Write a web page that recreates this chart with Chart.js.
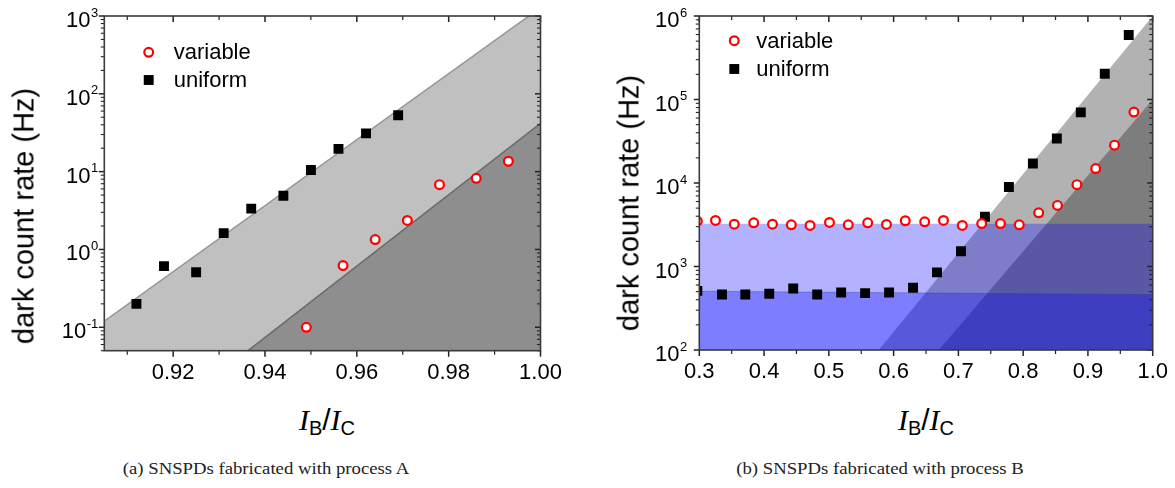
<!DOCTYPE html>
<html>
<head>
<meta charset="utf-8">
<script src="https://cdn.jsdelivr.net/npm/chart.js@4.4.1/dist/chart.umd.min.js"></script>
<style>
  html, body { margin: 0; padding: 0; background: #fff; }
  body { width: 1175px; height: 488px; position: relative; overflow: hidden;
         font-family: "Liberation Sans", Arial, sans-serif; color: #000; }
  canvas { position: absolute; top: 0; }
  #chartA { left: 0; }
  #chartB { left: 580px; }
  .ytitle { position: absolute; font-size: 29px; line-height: normal; white-space: nowrap;
            transform: translate(-50%, -50%) rotate(-90deg); }
  .xtitle { position: absolute; top: 405px; font-size: 30px; line-height: 1; white-space: nowrap;
            transform: translateX(-50%); }
  .xtitle i { font-family: "Liberation Serif", "Times New Roman", serif; }
  .xtitle .sub { font-family: "Liberation Sans", Arial, sans-serif; font-size: 20px;
                 position: relative; top: 5px; }
  .xtitle .sl { font-family: "Liberation Sans", Arial, sans-serif; }
  .caption { position: absolute; top: 461px; font-family: "Liberation Serif", "Times New Roman", serif;
             font-size: 16px; line-height: 1; white-space: nowrap; color: #222;
             transform: translateX(-50%) scaleX(1.17); }
</style>
</head>
<body>
<canvas id="chartA" width="580" height="400"></canvas>
<canvas id="chartB" width="595" height="400"></canvas>

<div class="ytitle" style="left:24px; top:216px;">dark count rate (Hz)</div>
<div class="ytitle" style="left:629px; top:203px;">dark count rate (Hz)</div>

<div class="xtitle" style="left:327px;"><i>I</i><span class="sub">B</span><span class="sl">/</span><i>I</i><span class="sub">C</span></div>
<div class="xtitle" style="left:926px;"><i>I</i><span class="sub">B</span><span class="sl">/</span><i>I</i><span class="sub">C</span></div>

<div class="caption" style="left:266px;">(a) SNSPDs fabricated with process A</div>
<div class="caption" style="left:880px;">(b) SNSPDs fabricated with process B</div>

<script>
// ---------- Process A ----------
const variableA_x = [0.949, 0.957, 0.964, 0.971, 0.978, 0.986, 0.993];
const variableA_y = [0.10, 0.62, 1.34, 2.36, 6.8, 8.2, 13.6];
const uniformA_x  = [0.912, 0.918, 0.925, 0.931, 0.937, 0.944, 0.950, 0.956, 0.962, 0.969];
const uniformA_y  = [0.20, 0.61, 0.51, 1.62, 3.35, 4.9, 10.5, 19.6, 31, 53];
// trend bounds (I_B/I_C, rate) end points
const boundUniformA_x  = [0.905, 1.0];
const boundUniformA_y  = [0.12, 1280];
const boundVariableA_x = [0.9363, 1.0];
const boundVariableA_y = [0.05, 41.8];
// axes
const xTicksA      = [0.92, 0.94, 0.96, 0.98, 1.00];
const xTickLabelsA = ['0.92', '0.94', '0.96', '0.98', '1.00'];
const xMinorA      = [0.91, 0.93, 0.95, 0.97, 0.99];
const yDecadesA    = [0.1, 1, 10, 100, 1000];
const yExponentsA  = ['-1', '0', '1', '2', '3'];

// ---------- Process B ----------
const variableB_x = [0.297, 0.325, 0.354, 0.384, 0.413, 0.442, 0.471, 0.501, 0.530, 0.560, 0.589, 0.618,
                     0.648, 0.677, 0.706, 0.736, 0.765, 0.794, 0.824, 0.853, 0.883, 0.912, 0.941, 0.971];
const variableB_y = [3490, 3560, 3210, 3340, 3210, 3160, 3100, 3370, 3160, 3340, 3190, 3530,
                     3430, 3560, 3100, 3270, 3270, 3160, 4400, 5390, 9550, 14900, 28400, 70800];
const uniformB_x  = [0.297, 0.335, 0.371, 0.408, 0.445, 0.482, 0.519, 0.556, 0.593, 0.630, 0.667, 0.704,
                     0.741, 0.778, 0.815, 0.852, 0.889, 0.926, 0.963];
const uniformB_y  = [510, 462, 462, 471, 546, 462, 489, 480, 489, 556, 851, 1520,
                     3940, 8950, 17100, 34100, 70100, 203000, 591000];
// flat (low-bias) levels and steep (high-bias) bounds
const levelVariableB_x = [0.3, 1.0];
const levelVariableB_y = [3250, 3250];
const levelUniformB_x  = [0.3, 1.0];
const levelUniformB_y  = [505, 460];
const slopeUniformB_x  = [0.577, 1.0];
const slopeUniformB_y  = [100, 1e6];
const slopeVariableB_x = [0.670, 1.0];
const slopeVariableB_y = [100, 1e5];
// axes
const xTicksB      = [0.3, 0.4, 0.5, 0.6, 0.7, 0.8, 0.9, 1.0];
const xTickLabelsB = ['0.3', '0.4', '0.5', '0.6', '0.7', '0.8', '0.9', '1.0'];
const xMinorB      = [0.35, 0.45, 0.55, 0.65, 0.75, 0.85, 0.95];
const yDecadesB    = [100, 1000, 10000, 100000, 1000000];
const yExponentsB  = ['2', '3', '4', '5', '6'];

const FONT = "'Liberation Sans', Arial, sans-serif";
const pts = (xs, ys) => xs.map((x, i) => ({ x, y: ys[i] }));

// Frame, Origin-style tick marks, 10^n labels and the key
const axisFrame = {
  id: 'axisFrame',
  afterDatasetsDraw(chart, _args, o) {
    const { ctx, chartArea: a } = chart;
    const xs = chart.scales.x, ys = chart.scales.y;
    ctx.save();
    ctx.strokeStyle = '#222';
    const seg = (x1, y1, x2, y2, w) => {
      ctx.lineWidth = w; ctx.beginPath(); ctx.moveTo(x1, y1); ctx.lineTo(x2, y2); ctx.stroke();
    };
    o.xMajor.forEach(v => {
      const p = xs.getPixelForValue(v);
      seg(p, a.bottom, p, a.bottom + 6, 1.5);
      seg(p, a.top, p, a.top + 6, 1.5);
    });
    o.xMinor.forEach(v => {
      const p = xs.getPixelForValue(v);
      seg(p, a.bottom, p, a.bottom + 4, 1.2);
      seg(p, a.top, p, a.top + 4, 1.2);
    });
    const lo = Math.floor(Math.log10(ys.min)), hi = Math.ceil(Math.log10(ys.max));
    for (let e = lo; e <= hi; e++) {
      for (let k = 1; k < 10; k++) {
        const v = k * Math.pow(10, e);
        if (v < ys.min * 0.999999 || v > ys.max * 1.000001) continue;
        const p = ys.getPixelForValue(v);
        const len = k === 1 ? 5.5 : 3.5;
        const w = k === 1 ? 1.5 : 1.1;
        seg(a.left - len, p, a.left, p, w);
        seg(a.right - len, p, a.right, p, w);
      }
    }
    ctx.lineWidth = 1.6;
    ctx.strokeStyle = '#3a3a3a';
    ctx.strokeRect(a.left, a.top, a.width, a.height);

    // decade labels 10^n
    ctx.fillStyle = '#000';
    ctx.textAlign = 'right';
    ctx.textBaseline = 'alphabetic';
    o.yDecades.forEach((v, i) => {
      const p = ys.getPixelForValue(v);
      const xr = a.left - o.labelGap;
      ctx.font = '13px ' + FONT;
      const ex = o.yExponents[i];
      ctx.fillText(ex, xr, p + 0.5);
      const w = ctx.measureText(ex).width;
      ctx.font = '22px ' + FONT;
      ctx.fillText('10', xr - w - 0.5, p + 11);
    });

    // key
    const items = chart.data.datasets.filter(d => d.showInKey);
    items.forEach((d, i) => {
      const cx = a.left + o.key.dx, cy = a.top + o.key.dy + i * o.key.gap;
      if (d.pointStyle === 'rect') {
        const s = d.pointRadius * Math.SQRT1_2;
        ctx.fillStyle = d.pointBackgroundColor;
        ctx.fillRect(cx - s, cy - s, 2 * s, 2 * s);
      } else {
        ctx.beginPath();
        ctx.arc(cx, cy, d.pointRadius, 0, 2 * Math.PI);
        ctx.fillStyle = d.pointBackgroundColor;
        ctx.fill();
        ctx.lineWidth = d.pointBorderWidth;
        ctx.strokeStyle = d.pointBorderColor;
        ctx.stroke();
      }
      ctx.fillStyle = '#000';
      ctx.font = '22px ' + FONT;
      ctx.textAlign = 'left';
      ctx.textBaseline = 'middle';
      ctx.fillText(d.label, cx + o.key.textDx, cy + 1);
    });
    ctx.restore();
  }
};

const variableStyle = {
  showLine: false, pointStyle: 'circle', pointRadius: 4.4, pointBorderWidth: 2.2,
  pointBorderColor: '#ff0000', pointBackgroundColor: '#ffffff', clip: 0, showInKey: true
};
const uniformStyle = {
  showLine: false, pointStyle: 'rect', pointRadius: 7, pointBorderWidth: 0,
  pointBorderColor: '#000000', pointBackgroundColor: '#000000', clip: 0, showInKey: true
};
const bandStyle = { pointRadius: 0, tension: 0, fill: 'start', clip: 0 };

function makeOptions(xMin, xMax, yMin, yMax, xTicks, xLabels, yAxisWidth, xAxisHeight, padRight, frameOpts) {
  return {
    responsive: false,
    animation: false,
    events: [],
    layout: { padding: { left: 0, top: 16, right: padRight, bottom: 0 } },
    scales: {
      x: {
        type: 'linear', min: xMin, max: xMax,
        grid: { display: false }, border: { display: false },
        afterBuildTicks: s => { s.ticks = xTicks.map(v => ({ value: v })); },
        afterFit: s => { s.height = xAxisHeight; },
        ticks: {
          autoSkip: false, maxRotation: 0, padding: 1, color: '#000',
          font: { family: FONT, size: 22 },
          callback: (v, i) => xLabels[i]
        }
      },
      y: {
        type: 'logarithmic', min: yMin, max: yMax,
        grid: { display: false }, border: { display: false },
        ticks: { display: false },
        afterFit: s => { s.width = yAxisWidth; }
      }
    },
    plugins: { legend: { display: false }, tooltip: { enabled: false }, axisFrame: frameOpts }
  };
}

new Chart(document.getElementById('chartA'), {
  type: 'line',
  plugins: [axisFrame],
  data: {
    datasets: [
      Object.assign({ label: 'variable', data: pts(variableA_x, variableA_y), order: 0 }, variableStyle),
      Object.assign({ label: 'uniform', data: pts(uniformA_x, uniformA_y), order: 1 }, uniformStyle),
      Object.assign({ label: 'variable bound', data: pts(boundVariableA_x, boundVariableA_y), order: 2,
        backgroundColor: '#8e8e8e', borderColor: '#6c6c6c', borderWidth: 1.5 }, bandStyle),
      Object.assign({ label: 'uniform bound', data: pts(boundUniformA_x, boundUniformA_y), order: 3,
        backgroundColor: '#c0c0c0', borderColor: '#979797', borderWidth: 1.5 }, bandStyle)
    ]
  },
  options: makeOptions(0.905, 1.0, 0.05, 1000, xTicksA, xTickLabelsA, 104.3, 49.3, 39.5, {
    xMajor: xTicksA, xMinor: xMinorA, yDecades: yDecadesA, yExponents: yExponentsA, labelGap: 6,
    key: { dx: 44.4, dy: 36.3, gap: 27.7, textDx: 25 }
  })
});

// translucent blue levels are laid over the grey slope regions
new Chart(document.getElementById('chartB'), {
  type: 'line',
  plugins: [axisFrame],
  data: {
    datasets: [
      Object.assign({ label: 'variable', data: pts(variableB_x, variableB_y), order: 0 }, variableStyle),
      Object.assign({ label: 'uniform', data: pts(uniformB_x, uniformB_y), order: 1 }, uniformStyle),
      Object.assign({ label: 'uniform level', data: pts(levelUniformB_x, levelUniformB_y), order: 2,
        backgroundColor: 'rgba(0,0,255,0.3)', borderColor: 'rgba(40,40,160,0.35)', borderWidth: 1 }, bandStyle),
      Object.assign({ label: 'variable level', data: pts(levelVariableB_x, levelVariableB_y), order: 3,
        backgroundColor: 'rgba(0,0,255,0.3)', borderWidth: 0 }, bandStyle),
      Object.assign({ label: 'variable slope', data: pts(slopeVariableB_x, slopeVariableB_y), order: 4,
        backgroundColor: 'rgba(0,0,0,0.3)', borderWidth: 0 }, bandStyle),
      Object.assign({ label: 'uniform slope', data: pts(slopeUniformB_x, slopeUniformB_y), order: 5,
        backgroundColor: 'rgba(0,0,0,0.3)', borderWidth: 0 }, bandStyle)
    ]
  },
  options: makeOptions(0.3, 1.0, 100, 1e6, xTicksB, xTickLabelsB, 119.3, 50, 22.3, {
    xMajor: xTicksB, xMinor: xMinorB, yDecades: yDecadesB, yExponents: yExponentsB, labelGap: 12,
    key: { dx: 35, dy: 24.7, gap: 28.3, textDx: 22 }
  })
});
</script>
</body>
</html>
